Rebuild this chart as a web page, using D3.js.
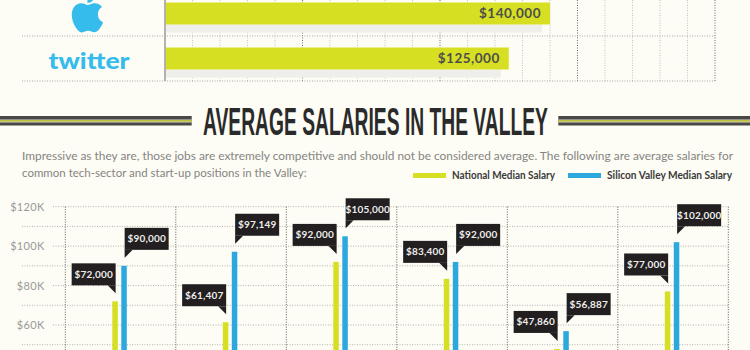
<!DOCTYPE html>
<html>
<head>
<meta charset="utf-8">
<script src="https://cdn.jsdelivr.net/npm/d3@7"></script>
<style>
  html, body { margin: 0; padding: 0; background: #fdfcf5; }
  svg { display: block; }
</style>
</head>
<body>
<svg id="chart" width="750" height="350"></svg>
<script>
// ---------- DATA ----------
const topCompanies = ["Apple", "Twitter"];
const topSalaries = [140000, 125000];
const topTicks = d3.range(10000, 200001, 10000);

const titleText = "AVERAGE SALARIES IN THE VALLEY";
const introLines = [
  "Impressive as they are, those jobs are extremely competitive and should not be considered average. The following are average salaries for",
  "common tech-sector and start-up positions in the Valley:"
];
const seriesNames = ["National Median Salary", "Silicon Valley Median Salary"];
const positions = ["Position 1", "Position 2", "Position 3", "Position 4", "Position 5", "Position 6"];
const nationalMedian = [72000, 61407, 92000, 83400, 47860, 77000];
const valleyMedian = [90000, 97149, 105000, 92000, 56887, 102000];
const gridValues = [50000, 60000, 70000, 80000, 90000, 100000, 110000, 120000];
const yTickValues = [60000, 80000, 100000, 120000];
const yTickLabels = ["$60K", "$80K", "$100K", "$120K"];

// ---------- STYLE ----------
const BG = "#fdfcf5";
const LIME = "#d7df23";
const BLUE = "#2ba9df";
const LOGO_BLUE = "#35bcec";
const DARK = "#231f20";
const FONT = "Lato, 'Open Sans', sans-serif";
const fmt = d3.format("$,");

const svg = d3.select("#chart");
svg.append("rect").attr("width", 750).attr("height", 350).attr("fill", BG);

// ---------- TOP CHART ----------
const xTop = d3.scaleLinear().domain([0, 200000]).range([165, 715]);
const yTop = d3.scaleBand().domain(topCompanies).range([-9, 81]);
const topG = svg.append("g");

topG.selectAll("line.vg").data(topTicks).join("line")
  .attr("x1", d => xTop(d)).attr("x2", d => xTop(d))
  .attr("y1", 0).attr("y2", 81)
  .attr("stroke", d => d % 50000 === 0 ? "#6d6d6d" : "#c4c4c0")
  .attr("stroke-width", 1)
  .attr("stroke-dasharray", "1,1.5");

topG.selectAll("rect.sh").data(topCompanies).join("rect")
  .attr("x", xTop(0) + 1)
  .attr("y", d => yTop(d) + 11.5 + 22)
  .attr("width", (d, i) => xTop(topSalaries[i]) - xTop(0) - 9)
  .attr("height", 8)
  .attr("fill", "#eeeeea");

topG.selectAll("rect.bar").data(topCompanies).join("rect")
  .attr("x", xTop(0) + 1)
  .attr("y", d => yTop(d) + 11.5)
  .attr("width", (d, i) => xTop(topSalaries[i]) - xTop(0) - 1)
  .attr("height", 22)
  .attr("fill", LIME);

topG.selectAll("text.val").data(topCompanies).join("text")
  .attr("x", (d, i) => xTop(topSalaries[i]) - 9)
  .attr("y", d => yTop(d) + 11.5 + 15.5)
  .attr("text-anchor", "end")
  .attr("font-family", FONT)
  .attr("font-weight", 700)
  .attr("font-size", 13.5)
  .attr("letter-spacing", 0.5)
  .attr("fill", "#4e4e4c")
  .text((d, i) => fmt(topSalaries[i]));

topG.selectAll("line.hs").data(topCompanies).join("line")
  .attr("x1", 22).attr("x2", 715)
  .attr("y1", d => yTop(d) + yTop.bandwidth())
  .attr("y2", d => yTop(d) + yTop.bandwidth())
  .attr("stroke", "#aaa")
  .attr("stroke-dasharray", "1,1.5");

topG.append("line")
  .attr("x1", xTop(0)).attr("x2", xTop(0))
  .attr("y1", 0).attr("y2", 81)
  .attr("stroke", "#9a9a98").attr("stroke-width", 1.5);

// Apple logo
topG.append("path")
  .attr("transform", "translate(68.2,-6) scale(1.6)")
  .attr("fill", LOGO_BLUE)
  .attr("d", "M12.152 6.896c-.948 0-2.415-1.078-3.960-1.040-2.040.027-3.910 1.183-4.961 3.014-2.117 3.675-.546 9.103 1.519 12.090 1.013 1.454 2.208 3.090 3.792 3.039 1.520-.065 2.090-.987 3.935-.987 1.831 0 2.350.987 3.960.948 1.637-.026 2.676-1.480 3.676-2.948 1.156-1.688 1.636-3.325 1.662-3.415-.039-.013-3.182-1.221-3.220-4.857-.026-3.040 2.480-4.494 2.597-4.559-1.429-2.090-3.623-2.324-4.390-2.376-2-.156-3.675 1.090-4.610 1.090zM15.530 3.830c.843-1.012 1.400-2.427 1.245-3.830-1.207.052-2.662.805-3.532 1.818-.780.896-1.454 2.338-1.273 3.714 1.338.104 2.715-.688 3.559-1.701");

// twitter wordmark
topG.append("text")
  .attr("x", 48.5).attr("y", 68.5)
  .attr("font-family", "Lato, sans-serif")
  .attr("font-weight", 900)
  .attr("font-size", 23)
  .attr("fill", LOGO_BLUE)
  .attr("textLength", 81)
  .attr("lengthAdjust", "spacingAndGlyphs")
  .text("twitter");

// ---------- TITLE BAND ----------
const stripes = [[0, 191.7], [558.3, 750]];
stripes.forEach(([a, b]) => {
  svg.append("rect").attr("x", a).attr("y", 116).attr("width", b - a).attr("height", 9.5).attr("fill", "#4a4846");
  svg.append("rect").attr("x", a).attr("y", 119.6).attr("width", b - a).attr("height", 0.7).attr("fill", BG);
  svg.append("rect").attr("x", a).attr("y", 120.3).attr("width", b - a).attr("height", 1.4).attr("fill", LIME);
  svg.append("rect").attr("x", a).attr("y", 121.7).attr("width", b - a).attr("height", 0.7).attr("fill", BG);
});

const title = svg.append("text")
  .attr("x", 0).attr("y", 0)
  .attr("font-family", "'Liberation Sans Narrow', 'Liberation Sans', sans-serif")
  .attr("font-weight", 700)
  .attr("font-size", 39)
  .attr("fill", "#2a2a2a")
  .text(titleText);
const natural = title.node().getComputedTextLength();
title.attr("transform", `translate(203,134.5) scale(${345 / natural},1)`);

svg.selectAll("text.intro").data(introLines).join("text")
  .attr("x", 22)
  .attr("y", (d, i) => 159.5 + i * 17)
  .attr("font-family", FONT)
  .attr("font-size", 11.5)
  .attr("fill", "#858582")
  .attr("textLength", (d, i) => i === 0 ? 711 : null)
  .attr("lengthAdjust", "spacingAndGlyphs")
  .text(d => d);

// legend
const legendX = [413, 568];
const legendTextW = [103, 125];
const legendColors = [LIME, BLUE];
seriesNames.forEach((name, i) => {
  svg.append("rect").attr("x", legendX[i]).attr("y", 173).attr("width", 33).attr("height", 5).attr("fill", legendColors[i]);
  svg.append("text")
    .attr("x", legendX[i] + 39).attr("y", 178.5)
    .attr("font-family", FONT).attr("font-weight", 700).attr("font-size", 10.5)
    .attr("fill", "#3a3a3a")
    .attr("textLength", legendTextW[i])
    .attr("lengthAdjust", "spacingAndGlyphs")
    .text(name);
});

// ---------- LOWER CHART ----------
const yLow = d3.scaleLinear().domain([0, 120000]).range([443.3, 206.7]);
const xLow = d3.scaleBand().domain(positions).range([65.3, 728.3]);
const lowG = svg.append("g");

lowG.selectAll("line.hg").data(gridValues).join("line")
  .attr("x1", d => yTickValues.includes(d) ? 53 : 22)
  .attr("x2", 728.3)
  .attr("y1", d => yLow(d)).attr("y2", d => yLow(d))
  .attr("stroke", "#b4b4b0")
  .attr("stroke-dasharray", "1,1.5");

const sepX = positions.map(p => xLow(p)).concat([xLow.range()[1]]);
lowG.selectAll("line.vs").data(sepX).join("line")
  .attr("x1", d => d).attr("x2", d => d)
  .attr("y1", yLow(120000)).attr("y2", 350)
  .attr("stroke", "#5e5e5c")
  .attr("stroke-dasharray", "1,1.5");

lowG.selectAll("text.yl").data(yTickValues).join("text")
  .attr("x", 44.5)
  .attr("y", d => yLow(d) + 4)
  .attr("text-anchor", "end")
  .attr("font-family", FONT)
  .attr("font-size", 11)
  .attr("letter-spacing", 0.3)
  .attr("fill", "#9a9a98")
  .text((d, i) => yTickLabels[i]);

const series = [
  { values: nationalMedian, color: LIME, offset: 47, side: "left" },
  { values: valleyMedian, color: BLUE, offset: 56, side: "right" }
];
const BW = 5.5;
series.forEach(s => {
  lowG.selectAll(null).data(positions).join("rect")
    .attr("x", p => xLow(p) + s.offset)
    .attr("y", (p, i) => yLow(s.values[i]))
    .attr("width", BW)
    .attr("height", (p, i) => 360 - yLow(s.values[i]))
    .attr("fill", s.color);
});

const BOXW = 44, BOXH = 22, TAIL = 8, GAP = 8;
series.forEach(s => {
  positions.forEach((p, i) => {
    const cx = xLow(p) + s.offset + BW / 2 + 0.6;
    const tipY = yLow(s.values[i]) - GAP;
    const bottom = tipY - TAIL;
    const left = s.side === "left" ? cx - BOXW : cx;
    const g = lowG.append("g");
    g.append("rect").attr("x", left).attr("y", bottom - BOXH)
      .attr("width", BOXW).attr("height", BOXH).attr("fill", DARK);
    const tri = s.side === "left"
      ? [[cx - TAIL, bottom], [cx, bottom], [cx, tipY]]
      : [[cx, bottom], [cx + TAIL, bottom], [cx, tipY]];
    g.append("path").attr("d", d3.line()(tri) + "Z").attr("fill", DARK);
    g.append("text")
      .attr("x", left + BOXW / 2).attr("y", bottom - BOXH + 14.5)
      .attr("text-anchor", "middle")
      .attr("font-family", FONT).attr("font-weight", 700).attr("font-size", 10)
      .attr("letter-spacing", 0.2)
      .attr("fill", "#ededea")
      .text(fmt(s.values[i]));
  });
});
</script>
</body>
</html>
